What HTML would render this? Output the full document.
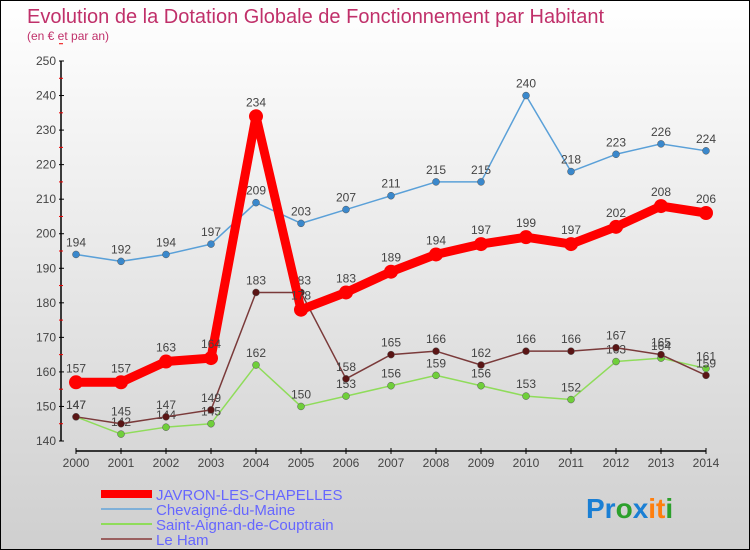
<!DOCTYPE html>
<html><head><meta charset="utf-8"><style>
body{margin:0;padding:0}
#wrap{width:748px;height:548px;border:1px solid #000;background:linear-gradient(#ffffff,#cfcfcf);position:relative;overflow:hidden}
svg{position:absolute;left:0;top:0;font-family:"Liberation Sans",sans-serif}
</style></head><body>
<div id="wrap">
<svg id="chart" width="748" height="548">
<text x="26" y="22" font-size="20" fill="#c0306a">Evolution de la Dotation Globale de Fonctionnement par Habitant</text>
<text x="26" y="39" font-size="12" fill="#c0306a">(en € et par an)</text>
<g id="axes"></g><g id="series"></g><g id="legend"></g>
<text x="585" y="517" font-size="28" font-weight="bold"><tspan fill="#1a7fd4">Pr</tspan><tspan fill="#2ca02c">o</tspan><tspan fill="#1a7fd4">x</tspan><tspan fill="#ff7f0e">it</tspan><tspan fill="#2ca02c">i</tspan></text>
</svg></div>
<script>
const years=[2000,2001,2002,2003,2004,2005,2006,2007,2008,2009,2010,2011,2012,2013,2014];
const javron=[157,157,163,164,234,178,183,189,194,197,199,197,202,208,206];
const chevaigne=[194,192,194,197,209,203,207,211,215,215,240,218,223,226,224];
const saintAignan=[147,142,144,145,162,150,153,156,159,156,153,152,163,164,161];
const leHam=[147,145,147,149,183,183,158,165,166,162,166,166,167,165,159];
const yTicks=[140,150,160,170,180,190,200,210,220,230,240,250];
const NS="http://www.w3.org/2000/svg";
function X(i){return 75+i*45;}
function Y(v){return 440-(v-140)*380/110;}
function mk(tag,attrs,parent){const e=document.createElementNS(NS,tag);for(const k in attrs)e.setAttribute(k,attrs[k]);parent.appendChild(e);return e;}
const ax=document.getElementById('axes');
let l=mk('line',{x1:60,y1:Y(250),x2:60,y2:Y(140),stroke:'#000','stroke-width':1.5},ax);


yTicks.forEach(v=>{
 mk('line',{x1:58,x2:63,y1:Y(v),y2:Y(v),stroke:'#000'},ax);
 mk('line',{x1:58,x2:62,y1:Y(v+5),y2:Y(v+5),stroke:'#e00'},ax);
 const t=mk('text',{x:55,y:Y(v)+4,'text-anchor':'end','font-size':12,fill:'#444'},ax);t.textContent=v;
 
 
});
l=mk('line',{x1:75,y1:450,x2:X(14),y2:450,stroke:'#000','stroke-width':1.5},ax);


years.forEach((y,i)=>{
 mk('line',{x1:X(i),x2:X(i),y1:447,y2:453,stroke:'#000'},ax);
 const t=mk('text',{x:X(i),y:466,'text-anchor':'middle','font-size':12,fill:'#444'},ax);t.textContent=y;
 
 
});
const sg=document.getElementById('series');
const defs=[
 {d:saintAignan,c:'#8fdc5a',f:'#6fcf3a',w:1.5,r:3.5,n:'saint-aignan'},
 {d:leHam,c:'#7a3a3a',f:'#5a1515',w:1.5,r:3.5,n:'le-ham'},
 {d:chevaigne,c:'#5aa0d8',f:'#3a88cc',w:1.5,r:3.5,n:'chevaigne'},
 {d:javron,c:'#ff0000',f:'#ff0000',w:9,r:7,n:'javron'}];
defs.forEach(s=>{
 const g=mk('g',{},sg);
 
 
 const p=mk('polyline',{points:s.d.map((v,i)=>X(i)+','+Y(v)).join(' '),fill:'none',stroke:s.c,'stroke-width':s.w,'stroke-linejoin':'round'},g);
 
 
 s.d.forEach((v,i)=>{
  const c=mk('circle',{cx:X(i),cy:Y(v),r:s.r,fill:s.f,stroke:s.w>2?'none':'#555','stroke-width':0.5},g);
  
  
  const t=mk('text',{x:X(i),y:Y(v)-(s.w>2?10:8),'text-anchor':'middle','font-size':12,fill:'#444'},g);t.textContent=v;
  
  
 });
});
const lg=document.getElementById('legend');
const names=['JAVRON-LES-CHAPELLES','Chevaigné-du-Maine','Saint-Aignan-de-Couptrain','Le Ham'];
const cols=['#ff0000','#7fb0d8','#8fdc5a','#9a6060'];
const ws=[8,2,2,2];
names.forEach((n,i)=>{
 const y=493+i*15;
 mk('line',{x1:100,x2:151,y1:y,y2:y,stroke:cols[i],'stroke-width':ws[i]},lg);
 const t=mk('text',{x:155,y:y+6,'font-size':15,fill:'#6666ff'},lg);t.textContent=n;
 
 
});
</script></body></html>
